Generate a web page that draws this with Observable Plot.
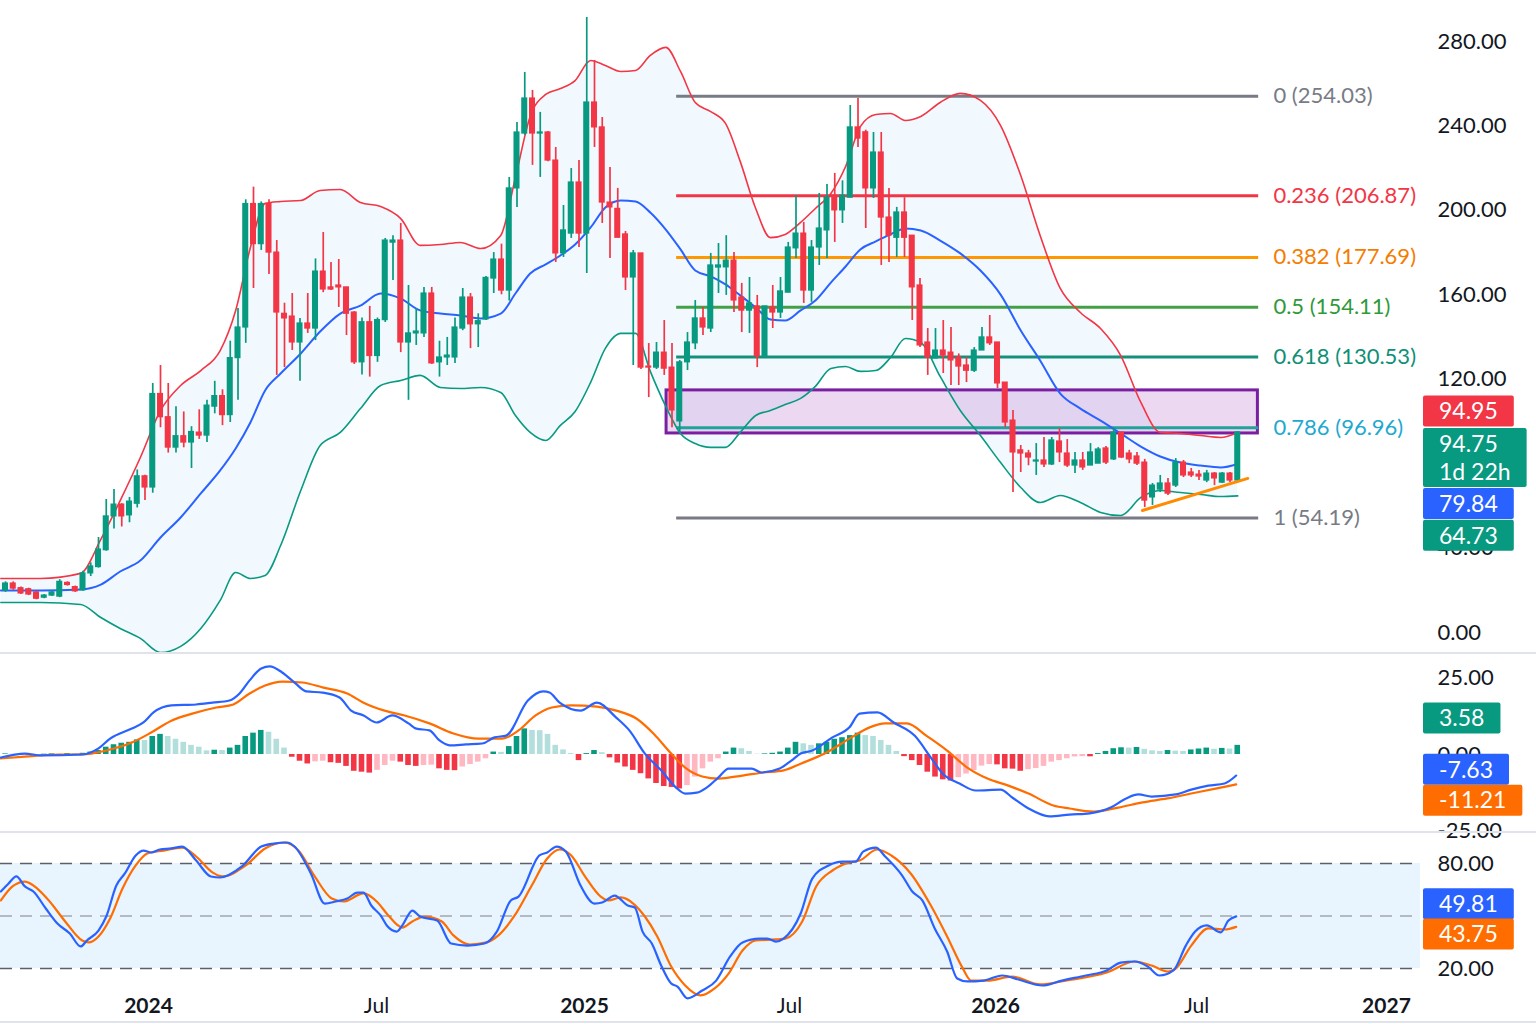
<!DOCTYPE html>
<html><head><meta charset="utf-8">
<script src="https://cdn.jsdelivr.net/npm/d3@7"></script>
<script src="https://cdn.jsdelivr.net/npm/@observablehq/plot@0.6"></script>
<style>
html,body{margin:0;padding:0;background:#fff;}
#chart{position:relative;width:1536px;height:1024px;overflow:hidden;background:#fff;}
.sep{position:absolute;left:0;width:1536px;height:2px;background:#e0e3eb;}
</style></head>
<body><div id="chart"></div>
<script>
// ---------- weekly candles (week index 0..159) ----------
const open = [19.9,23.2,21,20.5,19,16.5,17.5,17,23.5,21.5,
20,28,31,39,55,60.6,55.5,61,74,68.7,
113,102,87.6,93,90,94.7,93.3,107,112,103,
130,144.5,203,184,203,180,151,149.7,137.4,146.4,
144,171,163.5,164.4,163.5,151.6,128,147,131,148,
184.7,185.7,137.4,141.7,141.7,160.6,128,130.3,130.3,144,
158.7,146,148.3,167.7,176.7,162,210.4,236.4,253,236.4,
236.9,223.6,179.6,189,213.2,189,251.1,239.3,203.7,200.7,
188.6,168.2,179.6,126,125.5,132.6,125.5,100,128,137,
148.8,144,172.9,173,176.2,158.7,152.5,154.5,130.8,154,
151.6,161,182,189,162,182.4,190.5,207,200,206,
239.3,237,210.4,227.4,196.6,187,199,188,164.4,137.4,
129.8,133.6,132.6,130.3,126.5,124,133.6,139.8,137.4,118.4,
100.4,86.3,84.8,81,81.5,79.6,90.5,84.8,79.1,81.5,
79.1,80,87.2,82,94.7,84.8,83.4,80.5,64,67.7,
70.6,69.6,80.5,75.8,74.8,72,75.3,71,75.3,72];
const high = [24,24,21.5,21,19.5,18,19.5,25,24,22,
29,33,45,63,67.7,61,64,77,74.5,118,
126.5,118,107,104.5,97.5,105.5,110,119,115,138,
153.5,205,211,204,205,185.7,156,160.6,148.8,160.6,
177,189.5,175.3,176.7,163.5,152,149,154.5,149,186.7,
188,193.8,164.4,153.5,163.5,163.5,138,139.8,149,163,
160.6,151,168.7,180,184,215.6,241.6,265.3,256.8,246.4,
237.4,229.8,202.3,219.8,223.6,291.4,271,244,220.3,210.4,
190,181,179.6,136.9,137.4,147.8,136.9,128.9,142.1,157.3,
154,179.6,184.3,188,180,165.4,168.2,159.7,154.5,164.4,
168.2,184.8,207,194.3,185.7,208,212.3,217.5,214,249.7,
253,238,236.9,236.9,210.4,201.4,206,188,167.7,144,
144,147.8,144.5,132,130.3,135,144.5,150.2,137.4,118.4,
105.2,88.6,86.3,89.5,92.4,92.4,96.7,91.4,85.3,85.3,
89.5,87.6,88.1,96.7,94.7,86.3,85.3,82,70.6,74.4,
73,82.4,81.5,77.7,76.8,76.8,75.8,75.8,75.8,95.2];
const low = [19,20,18,17.5,15.5,16,17,16.5,22,19,
19.5,26.5,30.5,38.5,49,50,52,59,62.5,66,
97,85,85,87.5,77.7,91.5,90,103.6,98,99.5,
110,137,163,181,169.6,121.8,125.5,133.6,119,141.7,
138.3,161,162,154,140.7,127,122,121,128,146.9,
166.8,132.6,110,136,139.8,127,121,126.5,127.5,143,
134.5,135,147.8,160.6,160,157,201.4,235.5,221.3,215.6,
223,175.3,177.7,186.7,182.4,170.1,229.8,193.8,177.2,187,
162,126.5,124.6,111.3,124.6,121.8,97,94.7,124.1,134,
140.7,142.1,160.6,159.7,151.6,142.1,141.7,125.5,130.5,144,
148.8,161,177.2,155.9,156.4,173.9,177.2,184.8,193.8,206,
229.8,191.4,205.6,173.9,175.3,177.7,177.7,147.8,135,121.8,
129.8,122.7,117,117,118.4,123.2,133.6,136,115.6,97.1,
66.3,75.8,79,74.4,78.2,79.1,80.5,78.2,75.3,76.8,
79.1,80,79.6,81.5,82.4,80,79.1,59.2,60.2,66.3,
64.9,68.7,73.4,73.4,72,71,69.6,70.6,71,71];
const close = [23.2,20.8,18.5,18,16,17.5,19,24,22.5,19.5,
28,31.3,39.3,55,60.6,55,62,74,68.7,113,
102,87.6,93,90,95,93.3,107.5,112,103,130,
144.5,203,184,203,180,151.6,148.8,137.4,146.4,144,
171,162.5,162.5,163.5,151,128,147,131,148,185.7,
185.7,137.4,141.7,142.6,160.6,127.5,130.3,131.2,144.5,158.7,
146,147.5,168,176.7,162,210.4,236.9,253,236.4,236.9,
223.6,179.6,190.5,213.2,189,251.1,239.3,203.7,201.4,187,
168.2,179.6,125.5,125.5,132.6,125,105.2,128,137.4,148.8,
144.5,173.9,173.9,176.2,157.3,152.5,155.9,130.8,154.5,151.6,
161.6,182.4,189,162,182.4,191.4,206,200,207,239.3,
234,210.4,227.4,196.6,188,199,187,163.5,136,130.3,
133.6,131.2,128.9,126,124,133.6,139.8,137,118,99.5,
85.3,84.8,82.9,81.5,79.6,91,85.3,79.1,81.5,78.2,
85.3,86.7,80.5,94.7,82.9,82,80,62.5,69.6,70.6,
65.8,80.5,74.4,74.4,73.9,75.3,73,75.3,72,94.75];

// ---------- Bollinger bands ----------
const bandWeek  = [-0.6,4.5,9.7,12.3,14.8,17.4,20.0,22.6,25.2,27.7,29.7,31.6,33.5,35.5,38.1,40.6,43.2,45.8,48.4,51.0,53.5,56.1,58.7,61.3,63.9,65.8,67.7,69.7,71.6,73.5,75.5,77.4,79.4,81.3,83.2,85.2,87.1,89.0,91.0,92.9,94.8,96.8,98.7,100.6,102.6,104.5,106.5,108.4,110.3,112.3,114.2,116.1,118.1,120.6,123.2,125.8,128.4,131.0,133.5,136.1,138.7,141.3,143.9,146.5,149.0,151.6,154.2,156.8,159.0];
const bandUpper = [25.6,25.6,28.0,44.1,62.5,82.9,105.2,117.0,124.1,133.6,152.6,182.4,203.3,204.2,204.7,209.4,209.9,203.7,201.8,196.1,183.4,183.8,184.8,181.9,188.1,215.6,244.5,254.9,257.7,261.5,271.0,268.6,265.8,266.3,273.4,277.2,265.8,251.1,246.8,241.2,223.2,200.9,187.1,188.6,194.3,200.9,208.0,220.8,239.7,245.4,245.9,242.6,244.5,251.1,255.4,252.1,240.2,216.5,188.1,163.0,151.6,144.0,131.2,109.0,94.8,94.3,93.3,92.4,94.8];
const bandMid   = [19.9,19.9,20.4,22.7,28.9,34.1,45.0,54.5,65.9,76.8,87.2,99.5,114.7,122.7,132.2,142.6,151.1,154.9,160.6,158.2,152.6,151.1,150.2,148.8,151.1,160.6,170.1,174.4,178.6,183.8,191.9,201.4,204.7,204.2,199.0,190.9,181.5,171.5,168.7,164.9,159.7,154.0,148.3,147.8,152.6,157.3,165.8,173.4,181.5,185.3,188.6,191.4,190.5,185.7,179.6,171.5,160.1,143.1,128.9,113.2,106.1,100.4,94.3,88.1,83.4,80.5,79.1,78.2,79.84];
const bandLower = [14.2,14.2,13.3,7.1,1.9,-2.8,-9.5,-6.6,1.9,15.2,28.4,25.6,27.0,41.2,67.3,88.6,94.8,106.1,117.0,119.4,121.8,116.1,115.6,116.1,113.7,102.8,94.8,91.0,98.1,104.7,118.5,134.6,141.7,141.7,123.7,107.1,94.3,89.5,87.7,87.7,94.8,102.8,105.2,108.0,110.9,116.6,125.1,126.0,123.7,124.1,130.3,139.3,137.4,121.3,105.2,93.3,80.5,68.7,61.6,64.9,61.6,56.9,55.4,64.0,67.3,66.3,65.4,64.4,64.73];

// ---------- Fibonacci retracement, zone, trend line ----------
const fibLevels = [0, 0.236, 0.382, 0.5, 0.618, 0.786, 1];
const fibPrices = [254.03, 206.87, 177.69, 154.11, 130.53, 96.96, 54.19];
const fibLineColors  = ["#787b86","#f23645","#ff9800","#43a047","#14907c","#22a39a","#787b86"];
const fibLabelColors = ["#787b86","#f23645","#f57c00","#2e9a3a","#0f8f77","#1ea9cf","#787b86"];
const fibWeeks = [86.6, 161.7];      // start / end week of the retracement lines
const fibLabelWeek = 163.6;
const zoneWeeks = [85.3, 161.6];
const zonePrices = [94.3, 114.7];
const trendWeeks = [146.7, 160.3];
const trendPrices = [57.8, 73.0];
const priceTicks = [0, 40, 120, 160, 200, 240, 280];

// ---------- MACD ----------
const macdWeek = [-0.6,2.5,4.6,9.9,12.0,13.5,16.3,17.8,19.1,21.4,24.6,26.7,28.9,30.2,31.5,33.0,34.1,35.7,37.3,38.8,40.9,43.1,44.6,46.2,47.9,49.9,52.0,53.0,54.7,56.0,57.3,59.4,61.5,63.1,64.6,67.4,69.4,70.2,71.5,74.2,76.3,78.8,80.5,82.5,84.6,86.5,87.7,89.2,90.5,92.0,93.3,96.3,97.5,99.9,101.4,102.6,104.1,106.7,108.9,110.2,112.5,114.6,117.3,119.4,120.9,123.1,125.2,128.4,129.9,132.0,134.7,137.3,139.9,142.6,144.6,146.2,147.9,151.0,153.0,155.2,157.3,158.8];
const macdLine = [-1.0,0.3,-0.3,0,2.0,5.2,8.5,10.5,13.8,16.1,16.4,17.0,17.7,20.0,24.3,28.2,28.9,26.9,23.6,20.7,20.3,18.7,14.4,12.8,10.5,12.8,10.2,8.5,7.9,4.6,3.0,3.3,3.6,5.6,6.2,17.7,20.7,20.3,17.0,14.4,17.0,12.1,7.9,0.3,-5.2,-10.8,-12.8,-12.5,-10.8,-7.5,-4.6,-4.6,-5.9,-4.6,-2.0,0.3,1.3,5.6,8.9,13.4,13.8,10.5,6.2,-1.0,-6.2,-9.5,-11.8,-11.5,-14.1,-17.7,-20.3,-19.7,-19.3,-17.4,-14.4,-13.1,-13.8,-13.1,-11.5,-10.2,-9.5,-6.9];
const signalWeek = [-0.6,2.5,7.2,9.9,13.0,16.3,18.8,21.4,24.1,27.2,29.4,31.5,33.5,35.7,38.3,40.9,44.1,46.2,48.9,51.5,54.7,57.8,61.0,64.1,66.2,68.4,70.5,73.0,76.3,78.8,81.4,83.6,85.9,87.7,89.9,92.0,95.1,97.8,100.4,102.6,105.7,108.9,111.5,113.5,116.3,118.8,121.5,124.1,126.7,129.4,132.0,135.2,137.3,140.4,143.6,146.7,149.9,153.0,156.3,158.8];
const signalLine = [-1.3,-0.7,0,0,1.3,3.9,7.2,11.1,13.4,15.4,16.4,20.0,22.6,23.9,23.6,22.0,20.0,17.0,14.4,12.8,10.2,6.9,5.2,5.2,7.9,12.8,15.4,16.1,15.7,14.4,11.8,6.9,0.3,-4.3,-7.2,-7.9,-6.9,-5.9,-5.2,-3.0,0.3,5.2,8.9,10.2,10.2,6.2,1.3,-4.3,-7.9,-10.2,-12.8,-16.7,-17.7,-18.7,-17.4,-15.7,-14.4,-12.8,-11.1,-9.8];
const histogram = [0.2,0.1,-0.1,-0.2,-0.1,0.1,0.2,0.1,0.3,0.2,
0.4,0.8,1.3,2.4,3.2,3.7,4.0,4.8,4.6,5.9,
6.6,5.9,5.0,4.0,3.0,2.4,1.2,1.4,1.3,2.1,
3.0,5.9,7.0,7.9,7.3,5.0,2.1,-0.9,-2.2,-3.1,
-2.4,-2.2,-2.7,-2.9,-3.9,-5.5,-5.8,-6.1,-5.2,-3.6,
-2.2,-2.5,-3.6,-3.9,-3.6,-3.5,-4.7,-5.2,-5.3,-4.1,
-3.3,-2.5,-1.4,0.8,0.7,2.6,5.9,8.4,7.9,7.8,
6.6,3.0,1.5,0.3,-2.0,0.3,1.3,0.6,-1.1,-2.8,
-4.1,-5.2,-6.3,-8.0,-9.5,-10.5,-10.8,-11.3,-10.2,-7.4,
-4.7,-2.5,-1.4,0.8,2.1,1.9,1.0,0.1,0.2,0.4,
0.8,2.1,4.0,3.5,3.0,3.5,4.0,5.0,5.5,6.2,
7.0,6.2,5.9,4.6,3.0,1.0,-0.7,-2.0,-3.6,-5.8,
-7.4,-8.3,-8.7,-7.6,-6.4,-5.3,-3.8,-3.3,-3.4,-4.7,
-4.8,-5.5,-5.0,-4.6,-3.9,-2.5,-2.0,-1.4,-0.8,-0.7,
-0.75,0.3,1.0,1.9,2.2,2.1,2.3,1.7,1.2,1.0,
1.3,1.1,1.0,1.5,1.8,2.1,1.7,2.0,1.8,3.0];
const macdTicks = [-25, 0, 25];

// ---------- Stochastic RSI ----------
const kWeek = [-0.6,0.4,1.4,2.5,3.6,5.2,6.7,8.3,9.7,10.5,12.0,13.0,14.3,15.4,16.8,17.8,18.8,19.9,21.4,22.8,24.6,26.5,27.7,30.5,33.0,34.6,36.3,37.3,39.4,41.2,42.6,44.1,45.4,46.2,47.2,48.4,49.2,50.5,51.2,52.5,53.5,55.7,57.5,59.6,61.8,63.4,65.2,66.2,68.9,69.9,71.1,72.3,74.2,76.0,77.0,78.6,80.3,81.2,82.2,83.4,84.6,85.9,86.7,88.0,89.9,91.7,93.5,95.1,97.3,98.3,99.4,100.4,102.6,104.1,106.2,108.0,109.7,110.7,112.3,113.5,115.7,117.0,118.3,119.9,121.5,122.8,124.1,126.2,128.6,130.7,133.8,136.3,139.4,142.1,143.9,145.7,147.4,148.9,150.7,152.3,153.5,155.0,156.8,157.8,158.8];
const kValue = [64.0,68.6,72.6,66.9,64.0,54.3,45.7,40.0,32.6,36.0,41.7,49.7,67.4,74.3,84.6,87.4,86.3,88.0,88.6,89.7,81.7,72.6,72.0,78.3,89.7,91.4,92.0,89.7,74.3,57.1,58.3,60.0,63.4,63.4,56.0,50.3,44.6,41.1,44.6,53.1,49.7,47.4,34.3,33.1,34.3,41.1,58.9,61.1,84.6,86.3,89.7,86.9,67.4,57.1,57.7,61.7,56.0,54.9,41.1,34.3,21.7,11.4,9.7,2.9,7.4,13.1,26.9,34.9,37.1,37.1,35.4,37.1,51.4,71.4,78.9,81.1,81.1,86.9,89.1,84.0,73.1,64.0,58.9,42.9,29.7,14.3,12.6,13.1,16.0,13.7,10.3,13.1,16.0,18.9,23.4,24.0,21.1,16.0,18.9,33.1,41.1,44.6,40.6,47.4,49.8];
const dWeek = [-0.6,0.9,2.5,4.1,5.7,7.7,9.9,10.7,12.0,13.5,15.1,16.8,18.3,20.4,22.8,24.6,26.7,28.0,31.0,33.5,36.0,37.8,39.9,42.1,43.6,46.2,47.9,49.4,51.2,52.5,54.1,56.3,57.8,59.9,62.1,63.6,65.7,67.9,69.9,71.5,73.0,74.7,76.8,77.8,79.4,81.0,82.5,84.1,85.9,87.7,89.7,91.5,93.3,95.1,96.8,99.4,100.6,102.8,104.6,106.7,108.9,110.2,112.5,114.3,116.8,119.4,121.5,123.4,124.6,126.7,129.9,133.5,136.8,142.1,145.7,147.9,150.0,151.0,153.0,155.2,157.3,158.8];
const dValue = [58.9,66.9,69.7,65.7,58.3,46.9,36.0,34.9,38.3,48.6,65.7,78.9,85.7,87.4,89.1,84.0,74.9,72.6,78.9,88.6,92.0,87.4,72.6,60.0,58.3,62.9,58.3,50.3,43.4,46.9,49.7,46.9,38.9,33.7,34.9,38.9,50.3,67.4,82.9,88.0,84.6,73.1,61.1,58.9,60.6,57.1,49.7,38.3,21.1,10.3,4.6,8.6,17.1,30.3,36.0,36.6,37.1,46.9,66.9,76.0,80.6,81.7,88.0,84.6,74.3,56.0,38.3,21.1,13.1,13.1,15.4,10.9,13.1,17.7,24.0,21.7,18.3,20.0,33.1,42.9,42.3,43.8];
const stochTicks = [20, 80];
const stochBands = [20, 50, 80];

// ---------- time axis ----------
const tickWeeks  = [18.45, 47.87, 74.71, 101.16, 127.74, 153.68, 178.19];
const tickLabels = ["2024", "Jul", "2025", "Jul", "2026", "Jul", "2027"];

// ---------- last-value tags ----------
const priceTagText   = ["94.95", "94.75\n1d 22h", "79.84", "64.73"];
const priceTagValue  = [94.95, 94.75, 79.84, 64.73];
const macdTagText    = ["3.58", "-7.63", "-11.21"];
const macdTagValue   = [3.58, -7.63, -11.21];
const stochTagText   = ["49.81", "43.75"];
const stochTagValue  = [49.81, 43.75];

// =====================================================
const FONT = "Lato, 'Open Sans', 'DejaVu Sans', sans-serif";
const UP = "#089981", DOWN = "#f23645";
const W = 1536, FRAME_R = 1420, MR = W - FRAME_R;
const xDomain = [-5 / 7.75, (FRAME_R - 5) / 7.75];
const xScale = {type: "linear", domain: xDomain, range: [0, FRAME_R], axis: null};
const baseStyle = {background: "transparent", fontFamily: FONT, fontSize: "22px", color: "#131722", overflow: "visible"};

const candles = open.map((o, i) => ({week: i, open: o, high: high[i], low: low[i], close: close[i]}));
const bands = bandWeek.map((w, k) => ({week: w, upper: bandUpper[k], mid: bandMid[k], lower: bandLower[k]}));
const fib = fibLevels.map((l, k) => ({level: l, price: fibPrices[k], line: fibLineColors[k], label: fibLabelColors[k], x1: fibWeeks[0], x2: fibWeeks[1], lx: fibLabelWeek}));
const zone = [{x1: zoneWeeks[0], x2: zoneWeeks[1], y1: zonePrices[0], y2: zonePrices[1]}];
const trend = trendWeeks.map((w, k) => ({week: w, price: trendPrices[k]}));
const hist = histogram.map((h, i) => {
  const prev = i > 0 ? histogram[i - 1] : h;
  const c = h >= 0 ? (h >= prev ? "#089981" : "#b2dfdb") : (h <= prev ? "#f23645" : "#ffb8c2");
  return {week: i, value: h, color: c};
});
const macd = macdWeek.map((w, k) => ({week: w, value: macdLine[k]}));
const signal = signalWeek.map((w, k) => ({week: w, value: signalLine[k]}));
const kLine = kWeek.map((w, k) => ({week: w, value: kValue[k]}));
const dLine = dWeek.map((w, k) => ({week: w, value: dValue[k]}));
const xTicks = tickWeeks.map((w, k) => ({week: w, label: tickLabels[k], year: /^\d{4}$/.test(tickLabels[k])}));

const container = document.getElementById("chart");
function place(svg, top) {
  svg.style.position = "absolute"; svg.style.left = "0px"; svg.style.top = top + "px";
  container.appendChild(svg);
}
function sep(top) { const d = document.createElement("div"); d.className = "sep"; d.style.top = top + "px"; container.appendChild(d); }

function addTags(svg, yDomain, yRange, texts, values, colors, nudges) {
  const y = d3.scaleLinear(yDomain, yRange);
  const g = d3.select(svg).append("g").attr("font-family", FONT).attr("font-size", 23).attr("text-anchor", "start");
  texts.forEach((t, k) => {
    const lines = t.split("\n");
    const h = lines.length === 1 ? 31 : 59;
    const cy = y(values[k]) + nudges[k];
    const rect = g.append("rect").attr("x", 1423).attr("y", cy - h / 2).attr("height", h).attr("rx", 2).attr("fill", colors[k]);
    const text = g.append("text").attr("fill", "#fff").attr("text-anchor", "start");
    lines.forEach((s, j) => text.append("tspan").attr("x", 1439).attr("text-anchor", "start")
      .attr("y", cy - h / 2 + 15.5 + j * 28).attr("dy", "0.36em").text(s));
    const w = text.node().getBBox().width;
    rect.attr("width", w + 32);
  });
}

// ---------- main price panel ----------
const mainY = {domain: [0, 280], range: [632, 41]};
const main = Plot.plot({
  width: W, height: 652, marginLeft: 0, marginRight: MR, marginTop: 0, marginBottom: 0,
  x: xScale, y: {...mainY, axis: null}, color: {type: "identity"}, style: baseStyle,
  marks: [
    Plot.areaY(bands, {x: "week", y1: "lower", y2: "upper", fill: "#2196f3", fillOpacity: 0.06, curve: "monotone-x"}),
    Plot.rect(zone, {x1: "x1", x2: "x2", y1: "y1", y2: "y2", fill: "#9c27b0", fillOpacity: 0.18, stroke: "#7b1fa2", strokeWidth: 3}),
    Plot.ruleY(fib, {y: "price", x1: "x1", x2: "x2", stroke: "line", strokeWidth: 3}),
    Plot.line(bands, {x: "week", y: "upper", stroke: "#f23645", strokeWidth: 1.6, curve: "monotone-x"}),
    Plot.line(bands, {x: "week", y: "mid", stroke: "#2962ff", strokeWidth: 2, curve: "monotone-x"}),
    Plot.line(bands, {x: "week", y: "lower", stroke: "#089981", strokeWidth: 1.6, curve: "monotone-x"}),
    Plot.ruleX(candles, {x: "week", y1: "low", y2: "high", stroke: d => d.close >= d.open ? UP : DOWN, strokeWidth: 1.7}),
    Plot.rect(candles, {x1: d => d.week - 0.39, x2: d => d.week + 0.39, y1: "open", y2: "close",
      fill: d => d.close >= d.open ? UP : DOWN, insetTop: -0.6, insetBottom: -0.6}),
    Plot.line(trend, {x: "week", y: "price", stroke: "#ff8c00", strokeWidth: 3}),
    Plot.text(fib, {x: "lx", y: "price", text: d => `${d.level} (${d.price.toFixed(2)})`, fill: "label",
      textAnchor: "start", fontSize: 22}),
    Plot.axisY({anchor: "right", ticks: priceTicks, tickFormat: d => d.toFixed(2), tickSize: 0, tickPadding: 17,
      fontSize: 22, label: null, fill: "#131722"})
  ]
});
place(main, 0);
addTags(main, mainY.domain, mainY.range, priceTagText, priceTagValue, ["#f23645", "#089981", "#2962ff", "#089981"], [-20.5, 25.5, 40, 40]);
sep(652);

// ---------- MACD panel ----------
const macdY = {domain: [-25, 25], range: [176.25, 23.75]};
const macdPlot = Plot.plot({
  width: W, height: 177, marginLeft: 0, marginRight: MR, marginTop: 0, marginBottom: 0,
  x: xScale, y: {...macdY, axis: null}, color: {type: "identity"}, style: baseStyle,
  marks: [
    Plot.rect(hist, {x1: d => d.week - 0.36, x2: d => d.week + 0.36, y1: 0, y2: "value", fill: "color"}),
    Plot.line(signal, {x: "week", y: "value", stroke: "#ff6d00", strokeWidth: 2.2, curve: "monotone-x"}),
    Plot.line(macd, {x: "week", y: "value", stroke: "#2962ff", strokeWidth: 2.2, curve: "monotone-x"}),
    Plot.axisY({anchor: "right", ticks: macdTicks, tickFormat: d => d.toFixed(2), tickSize: 0, tickPadding: 17,
      fontSize: 22, label: null, fill: "#131722"})
  ]
});
place(macdPlot, 654);
addTags(macdPlot, macdY.domain, macdY.range, macdTagText, macdTagValue, ["#089981", "#2962ff", "#ff6d00"], [-25, -8, 12]);
sep(831);

// ---------- Stochastic RSI panel ----------
const stochY = {domain: [20, 80], range: [135, 30]};
const zoneStoch = [{x1: xDomain[0], x2: xDomain[1], y1: stochBands[0], y2: stochBands[2]}];
const stoch = Plot.plot({
  width: W, height: 191, marginLeft: 0, marginRight: MR, marginTop: 0, marginBottom: 0,
  x: xScale, y: {...stochY, axis: null}, style: baseStyle,
  marks: [
    Plot.rect(zoneStoch, {x1: "x1", x2: "x2", y1: "y1", y2: "y2", fill: "#2196f3", fillOpacity: 0.1}),
    Plot.ruleY([stochBands[0], stochBands[2]], {stroke: "#5d606b", strokeWidth: 1.6, strokeDasharray: "12,8"}),
    Plot.ruleY([stochBands[1]], {stroke: "#a3a6af", strokeWidth: 1.4, strokeDasharray: "12,8"}),
    Plot.line(dLine, {x: "week", y: "value", stroke: "#ff6d00", strokeWidth: 2.2, curve: "monotone-x"}),
    Plot.line(kLine, {x: "week", y: "value", stroke: "#2962ff", strokeWidth: 2.2, curve: "monotone-x"}),
    Plot.axisY({anchor: "right", ticks: stochTicks, tickFormat: d => d.toFixed(2), tickSize: 0, tickPadding: 17,
      fontSize: 22, label: null, fill: "#131722"}),
    Plot.text(xTicks.filter(d => d.year), {x: "week", text: "label", frameAnchor: "bottom", dy: -12,
      fontSize: 21, fontWeight: "bold", fill: "#131722"}),
    Plot.text(xTicks.filter(d => !d.year), {x: "week", text: "label", frameAnchor: "bottom", dy: -12,
      fontSize: 21, fill: "#131722"})
  ]
});
place(stoch, 833);
addTags(stoch, stochY.domain, stochY.range, stochTagText, stochTagValue, ["#2962ff", "#ff6d00"], [-12, 7.5]);
sep(1021);
</script>
</body></html>
